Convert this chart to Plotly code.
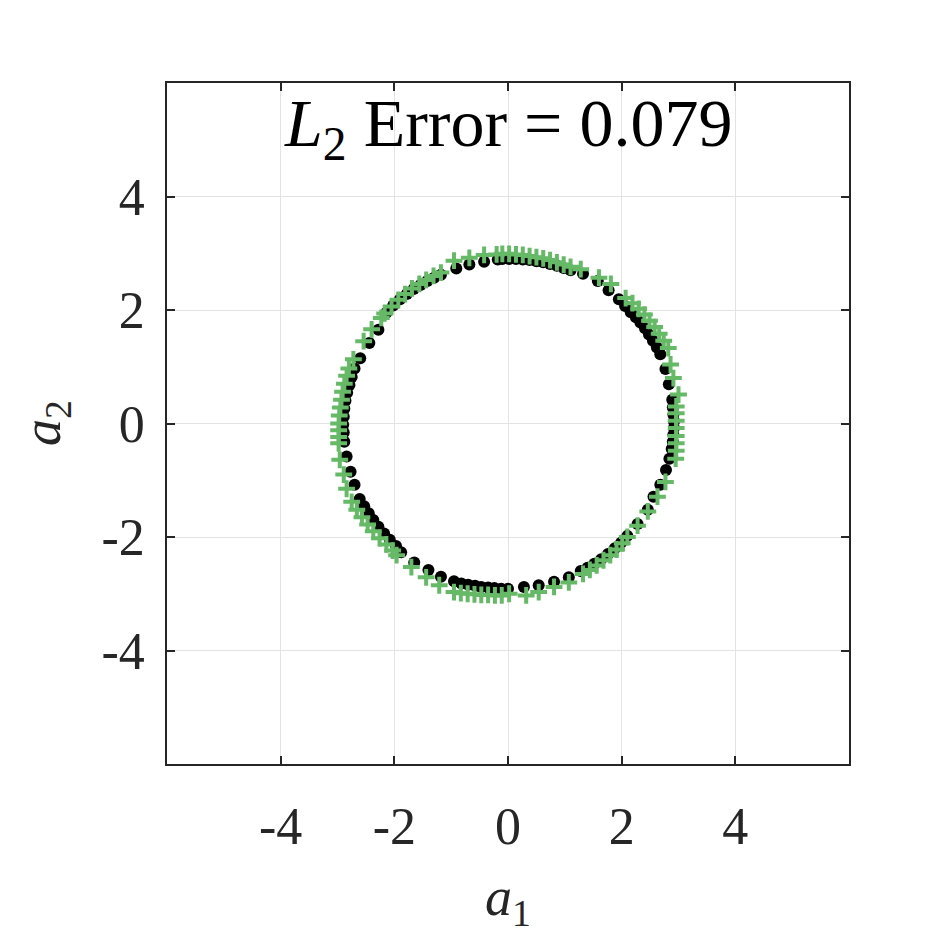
import plotly.graph_objects as go

# reference (black dots) around the circle
true_x = [2.78, 2.84, 2.88, 2.90, 2.91, 2.92, 2.92, 2.91, 2.90,
          2.89, 2.83, 2.77,
          2.68, 2.62, 2.55, 2.48, 2.41, 2.33, 2.25, 2.16, 2.06,
          1.95, 1.77, 1.58, 1.32,
          1.10, 0.98, 0.86, 0.74, 0.62, 0.50, 0.38, 0.26, 0.14, 0.02, -0.10, -0.18,
          -0.42, -0.68, -0.91,
          -1.18, -1.30, -1.42, -1.54, -1.66, -1.78, -1.90, -2.02, -2.14,
          -2.28, -2.44, -2.60,
          -2.70, -2.75, -2.79, -2.83, -2.86, -2.88, -2.89, -2.90, -2.89, -2.88,
          -2.84, -2.77, -2.70,
          -2.61, -2.53, -2.45, -2.37, -2.28, -2.18, -2.08, -1.97, -1.88,
          -1.65, -1.40, -1.18,
          -0.95, -0.82, -0.70, -0.58, -0.47, -0.35, -0.24, -0.12, 0.00,
          0.28, 0.54, 0.81, 1.07,
          1.28, 1.40, 1.52, 1.64, 1.76, 1.88, 1.99, 2.10,
          2.28, 2.46, 2.56, 2.68]
true_y = [-0.82, -0.62, -0.45, -0.32, -0.20, -0.08, 0.04, 0.16, 0.28,
          0.42, 0.69, 0.96,
          1.22, 1.34, 1.46, 1.57, 1.68, 1.78, 1.87, 1.96, 2.07,
          2.19, 2.35, 2.51, 2.64,
          2.70, 2.74, 2.78, 2.81, 2.84, 2.86, 2.88, 2.89, 2.90, 2.90, 2.90, 2.89,
          2.85, 2.80, 2.73,
          2.62, 2.57, 2.51, 2.44, 2.37, 2.28, 2.19, 2.08, 1.95,
          1.65, 1.42, 1.15,
          0.97, 0.82, 0.68, 0.54, 0.40, 0.26, 0.12, -0.02, -0.16, -0.32,
          -0.58, -0.85, -1.08,
          -1.33, -1.46, -1.58, -1.70, -1.82, -1.94, -2.05, -2.16, -2.27,
          -2.45, -2.58, -2.70,
          -2.78, -2.82, -2.84, -2.86, -2.88, -2.89, -2.90, -2.91, -2.91,
          -2.88, -2.85, -2.79, -2.71,
          -2.60, -2.54, -2.47, -2.39, -2.30, -2.20, -2.10, -1.98,
          -1.77, -1.52, -1.29, -1.08]

# predicted (green crosses)
pred_x = [2.95, 2.96, 2.96, 2.96, 2.96, 2.96, 2.96, 2.96, 3.00, 2.91, 2.86,
          2.82, 2.74, 2.66, 2.58, 2.49, 2.40, 2.30, 2.19, 2.07,
          1.81, 1.60, 1.28,
          1.10, 0.98, 0.86, 0.74, 0.62, 0.50, 0.38, 0.26, 0.14, 0.02, -0.10, -0.20,
          -0.42, -0.68, -0.95,
          -1.18, -1.31, -1.44, -1.56, -1.69, -1.81, -1.93, -2.05, -2.17, -2.23,
          -2.40, -2.54, -2.72,
          -2.80, -2.84, -2.88, -2.91, -2.93, -2.95, -2.97, -2.98, -2.98, -2.98, -2.98,
          -2.96, -2.89, -2.84,
          -2.75, -2.66, -2.57, -2.47, -2.37, -2.26, -2.14, -2.03, -1.96,
          -1.70, -1.44, -1.21,
          -0.95, -0.83, -0.71, -0.59, -0.47, -0.35, -0.23, -0.11, 0.02,
          0.32, 0.54, 0.81, 1.07,
          1.32, 1.44, 1.56, 1.68, 1.80, 1.91, 2.01, 2.10,
          2.28, 2.46, 2.63, 2.77]
pred_y = [-0.62, -0.48, -0.35, -0.22, -0.08, 0.05, 0.18, 0.30, 0.51, 0.80, 1.04,
          1.33, 1.46, 1.58, 1.70, 1.81, 1.92, 2.02, 2.12, 2.21,
          2.46, 2.57, 2.72,
          2.76, 2.80, 2.84, 2.88, 2.91, 2.93, 2.95, 2.97, 2.98, 2.99, 2.99, 2.98,
          2.97, 2.92, 2.87,
          2.66, 2.60, 2.53, 2.46, 2.38, 2.28, 2.18, 2.06, 1.94, 1.86,
          1.66, 1.45, 1.13,
          0.97, 0.84, 0.70, 0.56, 0.42, 0.28, 0.14, 0.00, -0.12, -0.24, -0.35,
          -0.64, -0.90, -1.15,
          -1.38, -1.52, -1.65, -1.78, -1.90, -2.02, -2.13, -2.24, -2.32,
          -2.53, -2.71, -2.85,
          -2.97, -2.99, -3.00, -3.01, -3.02, -3.02, -3.03, -3.03, -3.00,
          -3.03, -2.97, -2.88, -2.80,
          -2.65, -2.58, -2.50, -2.41, -2.32, -2.22, -2.11, -2.00,
          -1.80, -1.55, -1.29, -1.03]

tick_vals = [-4, -2, 0, 2, 4]
tick_text = ["-4", "-2", "0", "2", "4"]
title_text = "<i>L</i><sub>2</sub> Error = 0.079"

serif = "Liberation Serif, DejaVu Serif, serif"
ink = "#262626"
green = "#66b966"

fig = go.Figure()
fig.add_trace(go.Scatter(
    x=true_x, y=true_y, mode="markers",
    marker=dict(symbol="circle", size=12, color="black"),
))
fig.add_trace(go.Scatter(
    x=pred_x, y=pred_y, mode="markers",
    marker=dict(symbol="cross-thin", size=12, color=green,
                line=dict(color=green, width=4)),
))

axis_style = dict(
    range=[-6, 6], tickvals=tick_vals, ticktext=tick_text,
    showgrid=True, gridcolor="#e3e3e3", gridwidth=1.2, zeroline=False,
    showline=True, linecolor=ink, linewidth=1.5, mirror="allticks",
    ticks="inside", ticklen=8, tickwidth=1.5, tickcolor=ink,
    tickfont=dict(family=serif, size=52, color=ink),
)

fig.update_layout(
    width=938, height=938,
    paper_bgcolor="white", plot_bgcolor="white",
    font=dict(family=serif, color=ink),
    showlegend=False,
    margin=dict(l=159, r=97, t=75, b=182),
    xaxis=dict(axis_style, ticklabelstandoff=16),
    yaxis=dict(axis_style, ticklabelstandoff=10),
    annotations=[
        dict(text=title_text, x=0.5, y=0.935, xref="paper", yref="paper",
             xanchor="center", yanchor="middle", showarrow=False,
             font=dict(family=serif, size=68, color="black")),
        dict(text="<i>a</i><sub>1</sub>", x=0.5, y=-0.2, xref="paper", yref="paper",
             xanchor="center", yanchor="middle", showarrow=False,
             font=dict(family=serif, size=54, color=ink)),
        dict(text="<i>a</i><sub>2</sub>", x=-0.178, y=0.5, xref="paper", yref="paper",
             xanchor="center", yanchor="middle", showarrow=False, textangle=-90,
             font=dict(family=serif, size=54, color=ink)),
    ],
)

fig.write_html("out.html")
